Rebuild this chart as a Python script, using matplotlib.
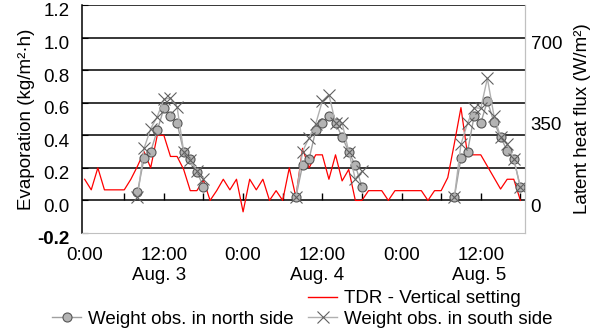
import numpy as np
import matplotlib
matplotlib.use('Agg')
from matplotlib import pyplot as plt
from matplotlib.lines import Line2D
import matplotlib.transforms as mtrans

plt.rcParams['font.family'] = ['Liberation Sans', 'DejaVu Sans']
plt.rcParams['font.size'] = 13.5

# TDR hourly evaporation, Aug. 3 0:00 -> Aug. 5 18:00 (kg/m2 h)
tdr_hours = list(range(67))
tdr_evap = [0.13, 0.065, 0.20, 0.065, 0.065, 0.065, 0.065, 0.13, 0.21, 0.30,
            0.20, 0.40, 0.40, 0.27, 0.27, 0.19, 0.06, 0.06, 0.125, 0.0,
            0.06, 0.13, 0.065, 0.13, -0.07, 0.13, 0.065, 0.13, 0.0, 0.06,
            0.0, 0.20, 0.02, 0.32, 0.20, 0.28, 0.28, 0.13, 0.28, 0.12,
            0.19, 0.0, 0.0, 0.06, 0.06, 0.06, 0.0, 0.06, 0.06, 0.06,
            0.06, 0.06, 0.0, 0.06, 0.06, 0.14, 0.35, 0.57, 0.28, 0.28,
            0.28, 0.21, 0.14, 0.07, 0.13, 0.13, 0.0]

# weight observations, 8:00 - 18:00 each day
obs_start = [8, 32, 56]
north = [[0.05, 0.26, 0.30, 0.43, 0.565, 0.52, 0.475, 0.30, 0.255, 0.175, 0.085],
         [0.02, 0.215, 0.255, 0.43, 0.475, 0.52, 0.475, 0.39, 0.30, 0.215, 0.085],
         [0.02, 0.26, 0.30, 0.52, 0.475, 0.61, 0.48, 0.39, 0.305, 0.255, 0.08]]
south = [[0.02, 0.32, 0.44, 0.515, 0.62, 0.63, 0.575, 0.30, 0.25, 0.18, 0.13],
         [0.02, 0.30, 0.385, 0.47, 0.61, 0.65, 0.475, 0.475, 0.30, 0.13, 0.18],
         [0.02, 0.345, 0.475, 0.57, 0.565, 0.75, 0.52, 0.39, 0.345, 0.255, 0.08]]

time_labels = ['0:00', '12:00', '0:00', '12:00', '0:00', '12:00']
day_labels = ['Aug. 3', 'Aug. 4', 'Aug. 5']
day_label_x = [11.2, 35.2, 59.8]
flux_ticks = [0, 350, 700]

fig = plt.figure(figsize=(5.92, 3.33), dpi=100)
ax = fig.add_axes([82/592, 1-233/333, 443/592, 228/333])

ax.plot(tdr_hours, tdr_evap, color='red', lw=0.9, zorder=3)
for i in range(3):
    h = obs_start[i] + np.arange(len(north[i]))
    ax.plot(h, north[i], color='#a0a0a0', lw=1, marker='o', ms=6.5,
            mfc='#b4b4b4', mec='#555555', mew=0.8, zorder=4)
    ax.plot(h, south[i], color='#b0b0b0', lw=1, marker='x', ms=8,
            mec='#606060', mew=0.8, zorder=5)

ax.set_xlim(-0.4, 66.7)
ax.set_ylim(-0.2, 1.2)
ax.set_yticks(np.arange(-0.2, 1.21, 0.2))
ax.set_yticklabels(['%.1f' % v for v in np.arange(-0.2, 1.21, 0.2)])
ax.get_yticklabels()[0].set_fontweight('bold')
for v in np.arange(0.0, 1.21, 0.2):
    ax.axhline(v, color='black', lw=1.1, zorder=1)

# small ticks sitting on the zero line every 6 hours
ax.vlines(np.arange(6, 67, 6), 0, 0.045, color='black', lw=1, zorder=2)

ax.set_xticks(np.arange(0, 61, 12))
ax.set_xticklabels(time_labels)
ax.tick_params(axis='x', length=0, pad=10)
ax.tick_params(axis='y', direction='in', length=4, pad=9)

# day names below the time labels
off = mtrans.ScaledTranslation(0, -42/100, fig.dpi_scale_trans)
for x, t in zip(day_label_x, day_labels):
    ax.text(x, 0, t, transform=ax.get_xaxis_transform() + off,
            ha='center', va='center')

ax.spines['top'].set_visible(False)
ax.spines['right'].set_color('#c0c0c0')
ax.spines['bottom'].set_color('#c0c0c0')
ax.spines['left'].set_linewidth(1.1)

shift = mtrans.ScaledTranslation(0, -5/100, fig.dpi_scale_trans)
for lab in ax.get_yticklabels():
    lab.set_transform(lab.get_transform() + shift)

ax.set_ylabel('Evaporation (kg/m²·h)')
ax.yaxis.set_label_coords((35-82)/443, 0.5)

ax2 = ax.twinx()
ax2.set_ylim(-140, 840)
ax2.set_yticks(flux_ticks)
ax2.tick_params(axis='y', length=0, pad=4)
for lab in ax2.get_yticklabels():
    lab.set_transform(lab.get_transform() + shift)
for s in ['top', 'left', 'bottom']:
    ax2.spines[s].set_visible(False)
ax2.spines['right'].set_color('#c0c0c0')
ax2.set_ylabel('Latent heat flux (W/m²)')
ax2.yaxis.set_label_coords((574-82)/443, 0.5)

blank = Line2D([], [], linestyle='none')
h_tdr = Line2D([], [], color='red', lw=1)
h_north = Line2D([], [], color='#a0a0a0', lw=1, marker='o', ms=6.5,
                 mfc='#b4b4b4', mec='#555555', mew=0.8)
h_south = Line2D([], [], color='#b0b0b0', lw=1, marker='x', ms=8,
                 mec='#606060', mew=0.8)
fig.legend([blank, h_north, h_tdr, h_south],
           ['', 'Weight obs. in north side', 'TDR - Vertical setting',
            'Weight obs. in south side'],
           ncol=2, loc='upper left', bbox_to_anchor=(52/592, 1-290/333),
           frameon=False, handlelength=1.55, handletextpad=0.35,
           columnspacing=0.8, labelspacing=0.2, borderpad=0, borderaxespad=0)

plt.savefig('out.png', dpi=100)
